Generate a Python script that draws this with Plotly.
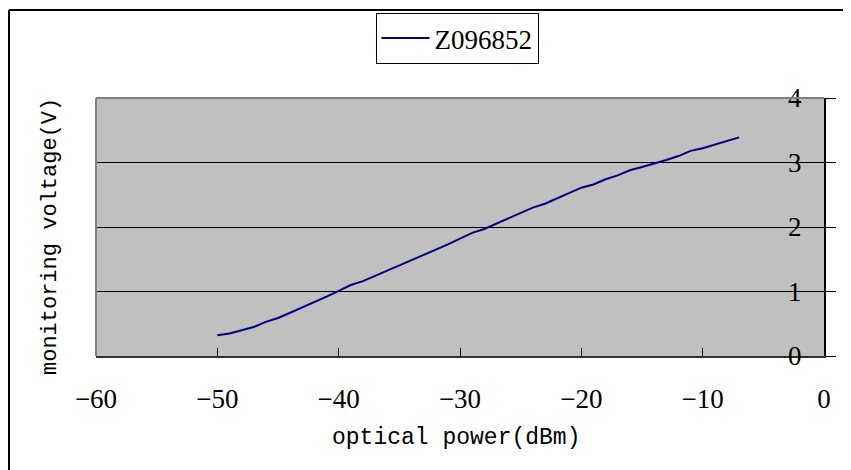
import plotly.graph_objects as go

power_dbm = [-50, -49, -48, -47, -46, -45, -44, -43, -42, -41, -40, -39, -38, -37, -36,
             -35, -34, -33, -32, -31, -30, -29, -28, -27, -26, -25, -24, -23, -22, -21,
             -20, -19, -18, -17, -16, -15, -14, -13, -12, -11, -10, -9, -8, -7]
voltage_v = [0.32, 0.35, 0.40, 0.45, 0.53, 0.59, 0.67, 0.75, 0.83, 0.92, 1.01, 1.10, 1.16, 1.24, 1.32,
             1.40, 1.48, 1.57, 1.65, 1.73, 1.82, 1.91, 1.97, 2.05, 2.13, 2.22, 2.30, 2.36, 2.44, 2.53,
             2.61, 2.66, 2.74, 2.80, 2.88, 2.93, 2.98, 3.04, 3.10, 3.18, 3.22, 3.28, 3.33, 3.39]
series_name = "Z096852"
x_ticks = [-60, -50, -40, -30, -20, -10, 0]
y_ticks = [0, 1, 2, 3, 4]

MONO = "Liberation Mono"
SERIF = "Liberation Serif"
OFF = 8  # page body margin
W, H = 851 - OFF, 470 - OFF
PL, PR, PT, PB = 96, 824, 98, 356  # plot area in screen pixels
L, R, T, B = PL - OFF, W - (PR - OFF), PT - OFF, H - (PB - OFF)
PW, PH = W - L - R, H - T - B

def px_x(p):
    return (p - OFF - L) / PW

def px_y(p):
    return (H - B - (p - OFF)) / PH

fig = go.Figure()
fig.add_trace(go.Scatter(x=power_dbm, y=voltage_v, mode="lines", name=series_name,
                         line=dict(color="#000080", width=2)))

fig.update_layout(
    width=W, height=H,
    margin=dict(l=L, r=R, t=T, b=B, autoexpand=False),
    paper_bgcolor="white", plot_bgcolor="#C0C0C0",
    font=dict(family=SERIF, size=27, color="black"),
    showlegend=True,
    legend=dict(x=px_x(457), xanchor="center", y=px_y(13), yanchor="top",
                bgcolor="white", bordercolor="black", borderwidth=1, itemwidth=48,
                font=dict(family=SERIF, size=27, color="black")),
    xaxis=dict(range=[-60, 0], tickvals=x_ticks, ticks="inside", ticklen=8, tickcolor="black",
               showgrid=False, zeroline=False, showline=True, linecolor="#303030", linewidth=2,
               ticklabelstandoff=18, tickfont=dict(family=SERIF, size=27, color="black")),
    yaxis=dict(range=[0, 4], tickvals=y_ticks, side="right", ticks="outside", ticklen=10,
               tickcolor="black", ticklabelposition="inside", ticklabelstandoff=25,
               ticklabeloverflow="allow",
               showgrid=True, gridcolor="black", gridwidth=1, zeroline=False,
               showline=True, linecolor="black", linewidth=2,
               tickfont=dict(family=SERIF, size=27, color="black")),
    annotations=[
        dict(text="optical power(dBm)", xref="paper", yref="paper", x=px_x(456), y=px_y(438),
             xanchor="center", yanchor="middle", showarrow=False,
             font=dict(family=MONO, size=23, color="black")),
        dict(text="monitoring voltage(V)", xref="paper", yref="paper", x=px_x(50), y=px_y(237),
             xanchor="center", yanchor="middle", textangle=-90, showarrow=False,
             font=dict(family=MONO, size=22, color="black")),
    ],
    shapes=[
        dict(type="line", xref="paper", yref="paper", x0=0, x1=1, y0=1, y1=1,
             line=dict(color="#808080", width=2)),
        dict(type="line", xref="paper", yref="paper", x0=0, x1=0, y0=0, y1=1,
             line=dict(color="#808080", width=2)),
        dict(type="line", xref="paper", yref="paper", x0=px_x(9), x1=px_x(860), y0=px_y(10), y1=px_y(10),
             line=dict(color="black", width=2)),
        dict(type="line", xref="paper", yref="paper", x0=px_x(9), x1=px_x(9), y0=px_y(10), y1=px_y(480),
             line=dict(color="black", width=2)),
    ],
)

fig.write_html("out.html")
